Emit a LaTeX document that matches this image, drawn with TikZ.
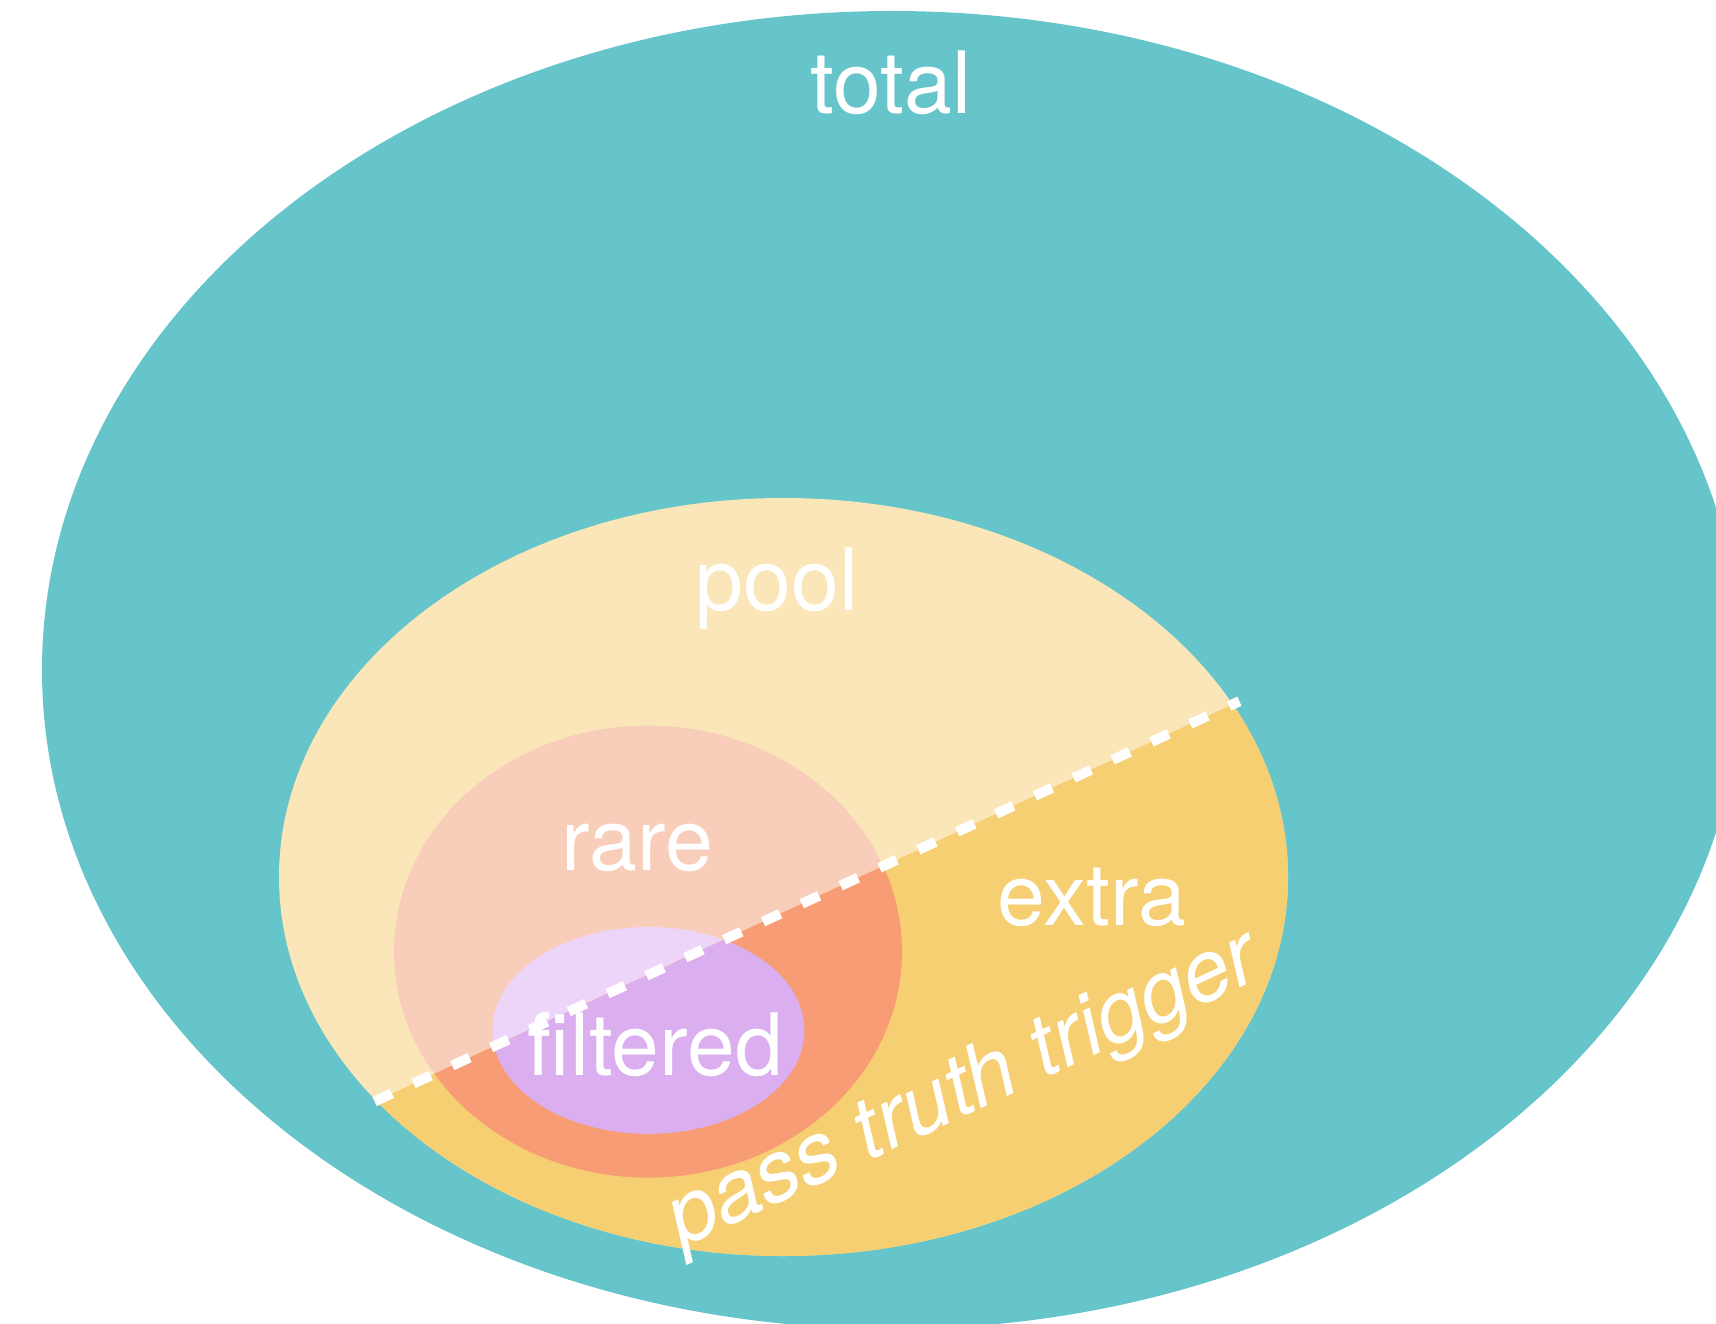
\documentclass[tikz,border=0pt]{standalone}
\usepackage{fontspec}
\setmainfont{TeX Gyre Heros}[Ligatures=NoCommon]
\usetikzlibrary{calc}

\definecolor{teal}{HTML}{66C5CA}
\definecolor{poolLight}{HTML}{FAE6B8}
\definecolor{poolDark}{HTML}{F5CF71}
\definecolor{rareLight}{HTML}{F8CDB9}
\definecolor{rareDark}{HTML}{F79C74}
\definecolor{filtLight}{HTML}{EDD5F9}
\definecolor{filtDark}{HTML}{DBAFEF}

\tikzset{
  lbl/.style={text=white, font=\fontsize{86}{100}\selectfont, inner sep=0pt, anchor=base},
  cutline/.style={draw=white, line width=10pt, line cap=butt, dash pattern=on 19pt off 23.8pt},
}

\begin{document}
\begin{tikzpicture}[x=1pt, y=-1pt]
  \useasboundingbox (0,0) rectangle (1716,1324);
  \clip (0,0) rectangle (1716,1324);

  % set ellipses, outermost first
  \fill[teal] (892,670) ellipse [x radius=850pt, y radius=659pt];
  \fill[poolLight] (783.5,877) ellipse [x radius=504.5pt, y radius=379pt];
  \fill[rareLight] (648,951.6) ellipse [x radius=254pt, y radius=226pt];
  \fill[filtLight] (648.4,1030.4) ellipse [x radius=156pt, y radius=103.4pt];

  % the cut through the pool
  \coordinate (cutA) at (374.6,1101.5);
  \coordinate (cutB) at (1239.4,701.2);
  \coordinate (lo) at ($(cutA)!-1!(cutB)$);
  \coordinate (hi) at ($(cutA)!2!(cutB)$);

  % darker shades on the side that passes the trigger
  \begin{scope}
    \clip (lo) -- (hi) -- ([yshift=-2000pt]hi) -- ([yshift=-2000pt]lo) -- cycle;
    \fill[poolDark] (783.5,877) ellipse [x radius=504.5pt, y radius=379pt];
    \fill[rareDark] (648,951.6) ellipse [x radius=254pt, y radius=226pt];
    \fill[filtDark] (648.4,1030.4) ellipse [x radius=156pt, y radius=103.4pt];
  \end{scope}

  \draw[cutline] (cutA) -- (cutB);

  % labels
  \node[lbl] (total) at (891,114) {total};
  \node[lbl] (pool) at (777,610) {pool};
  \node[lbl] (rare) at (637,870) {rare};
  \node[lbl] (extra) at (1092,925) {extra};
  \node[lbl] (filtered) at (655,1075) {filtered};
  \node[lbl, anchor=base west, rotate=25, font=\fontsize{86}{100}\selectfont\itshape] (pass) at (682,1248) {pass truth trigger};
\end{tikzpicture}
\end{document}
